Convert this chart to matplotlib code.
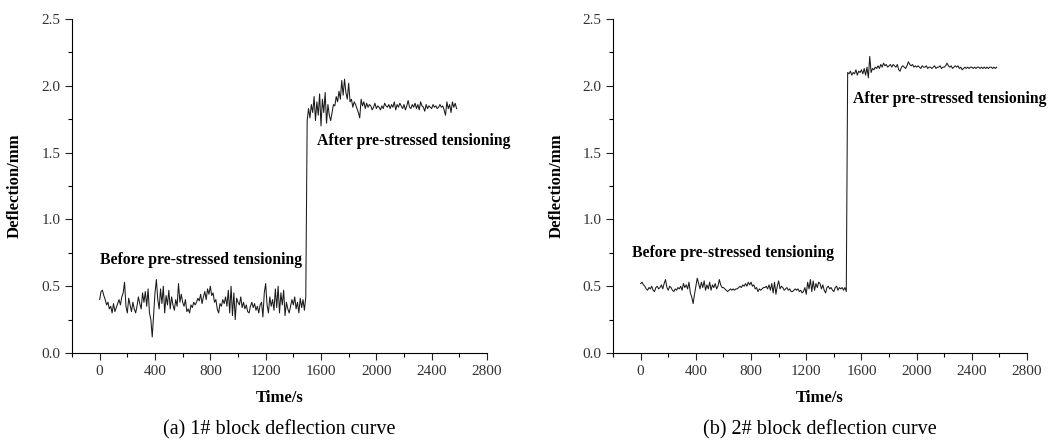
"""
Deflection of blocks 1# and 2# before and after pre-stressed tensioning
"""

import numpy as np
import matplotlib.pyplot as plt
from matplotlib.ticker import MultipleLocator

# Sampling step of the read-off values (s).
dt = 10
t_step = 1500  # first sample after tensioning

# Block 1#, before (0-1490 s) and after (1500-2580 s) tensioning, mm.
b1_before = [
    0.40, 0.46, 0.47, 0.43, 0.40, 0.36, 0.38, 0.33, 0.35, 0.30,
    0.37, 0.31, 0.34, 0.37, 0.40, 0.36, 0.42, 0.45, 0.53, 0.35,
    0.30, 0.41, 0.36, 0.31, 0.38, 0.33, 0.30, 0.35, 0.42, 0.37,
    0.33, 0.45, 0.38, 0.46, 0.35, 0.48, 0.30, 0.25, 0.12, 0.28,
    0.45, 0.55, 0.40, 0.33, 0.48, 0.37, 0.50, 0.30, 0.43, 0.36,
    0.47, 0.33, 0.42, 0.36, 0.32, 0.40, 0.35, 0.52, 0.38, 0.44,
    0.38, 0.35, 0.40, 0.31, 0.33, 0.30, 0.36, 0.34, 0.38, 0.36,
    0.38, 0.41, 0.39, 0.44, 0.37, 0.42, 0.46, 0.40, 0.48, 0.44,
    0.50, 0.43, 0.45, 0.38, 0.40, 0.33, 0.30, 0.37, 0.35, 0.40,
    0.37, 0.42, 0.35, 0.47, 0.30, 0.50, 0.28, 0.45, 0.25, 0.41,
    0.38, 0.36, 0.42, 0.34, 0.38, 0.33, 0.36, 0.31, 0.30, 0.35,
    0.38, 0.34, 0.37, 0.32, 0.35, 0.30, 0.36, 0.38, 0.27, 0.45,
    0.52, 0.36, 0.30, 0.42, 0.35, 0.40, 0.32, 0.48, 0.34, 0.50,
    0.30, 0.45, 0.36, 0.47, 0.28, 0.38, 0.33, 0.30, 0.35, 0.40,
    0.36, 0.42, 0.33, 0.38, 0.30, 0.41, 0.34, 0.40, 0.32, 0.42]
b1_after = [
    1.74, 1.83, 1.76, 1.86, 1.80, 1.92, 1.74, 1.88, 1.78, 1.94,
    1.70, 1.90, 1.80, 1.95, 1.72, 1.86, 1.78, 1.74, 1.80, 1.86,
    1.85, 1.92, 1.88, 1.96, 1.90, 2.04, 1.93, 2.05, 1.95, 1.90,
    2.02, 1.88, 1.90, 1.84, 1.88, 1.86, 1.83, 1.80, 1.76, 1.90,
    1.85, 1.88, 1.83, 1.87, 1.84, 1.86, 1.85, 1.82, 1.84, 1.87,
    1.83, 1.85, 1.84, 1.82, 1.85, 1.83, 1.87, 1.85, 1.84, 1.86,
    1.83, 1.86, 1.84, 1.88, 1.82, 1.86, 1.84, 1.87, 1.85, 1.83,
    1.86, 1.82, 1.85, 1.89, 1.84, 1.83, 1.86, 1.84, 1.87, 1.83,
    1.86, 1.82, 1.88, 1.85, 1.84, 1.81, 1.86, 1.83, 1.85, 1.84,
    1.83, 1.86, 1.84, 1.85, 1.83, 1.84, 1.86, 1.84, 1.85, 1.82,
    1.78, 1.88, 1.83, 1.86, 1.80, 1.88, 1.84, 1.87, 1.83]

# Block 2#, same time base, mm.
b2_before = [
    0.52, 0.53, 0.51, 0.50, 0.48, 0.47, 0.49, 0.48, 0.50, 0.47,
    0.46, 0.49, 0.50, 0.48, 0.49, 0.51, 0.48, 0.52, 0.55, 0.49,
    0.47, 0.50, 0.49, 0.47, 0.46, 0.48, 0.47, 0.49, 0.48, 0.50,
    0.47, 0.52, 0.49, 0.51, 0.48, 0.53, 0.45, 0.42, 0.37, 0.44,
    0.50, 0.56, 0.52, 0.48, 0.53, 0.49, 0.54, 0.47, 0.51, 0.48,
    0.53, 0.47, 0.51, 0.49, 0.52, 0.48, 0.50, 0.55, 0.51, 0.49,
    0.49, 0.48, 0.47, 0.46, 0.47, 0.48, 0.47, 0.48, 0.47, 0.48,
    0.48, 0.49, 0.50, 0.49, 0.51, 0.50, 0.52, 0.50, 0.53, 0.51,
    0.53, 0.50, 0.51, 0.48, 0.49, 0.46, 0.48, 0.47, 0.48, 0.49,
    0.49, 0.50, 0.48, 0.51, 0.47, 0.52, 0.45, 0.53, 0.44, 0.50,
    0.54, 0.48, 0.50, 0.49, 0.47, 0.48, 0.49, 0.47, 0.48, 0.46,
    0.46, 0.47, 0.48, 0.47, 0.48, 0.46, 0.47, 0.45, 0.46, 0.49,
    0.44, 0.53, 0.48, 0.55, 0.46, 0.54, 0.47, 0.52, 0.49, 0.53,
    0.52, 0.48, 0.51, 0.47, 0.45, 0.49, 0.50, 0.48, 0.49, 0.47,
    0.46, 0.49, 0.50, 0.47, 0.49, 0.48, 0.49, 0.47, 0.49, 0.46]
b2_after = [
    2.10, 2.09, 2.11, 2.08, 2.10, 2.09, 2.12, 2.08, 2.11, 2.10,
    2.12, 2.09, 2.13, 2.08, 2.14, 2.06, 2.22, 2.10, 2.13, 2.12,
    2.14, 2.13, 2.15, 2.13, 2.16, 2.14, 2.17, 2.15, 2.16, 2.14,
    2.15, 2.16, 2.14, 2.16, 2.15, 2.14, 2.16, 2.12, 2.11, 2.14,
    2.15, 2.14, 2.13, 2.15, 2.18, 2.16, 2.15, 2.16, 2.14, 2.15,
    2.14, 2.15, 2.14, 2.13, 2.15, 2.14, 2.14, 2.15, 2.13, 2.14,
    2.14, 2.13, 2.14, 2.15, 2.13, 2.14, 2.14, 2.15, 2.13, 2.14,
    2.14, 2.15, 2.17, 2.15, 2.14, 2.15, 2.13, 2.14, 2.15, 2.14,
    2.15, 2.13, 2.14, 2.12, 2.13, 2.14, 2.13, 2.14, 2.13, 2.14,
    2.14, 2.13, 2.14, 2.13, 2.14, 2.14, 2.13, 2.14, 2.13, 2.14,
    2.13, 2.14, 2.13, 2.14, 2.14, 2.13, 2.14, 2.13, 2.14]

captions = ['(a) 1# block deflection curve', '(b) 2# block deflection curve']
label_before = 'Before pre-stressed tensioning'
label_after = 'After pre-stressed tensioning'
# Text anchors (x, y) in data units: before, after.
text_pos = [((0, 0.70), (1570, 1.59)), ((-60, 0.75), (1540, 1.90))]

plt.rcParams['font.family'] = ['Liberation Serif', 'DejaVu Serif']

fig = plt.figure(figsize=(10.48, 4.4), dpi=100)
axes = [fig.add_axes([0.0687, 0.1977, 0.396, 0.759]),
        fig.add_axes([0.585, 0.1977, 0.395, 0.759])]

series = [(b1_before, b1_after), (b2_before, b2_after)]
for ax, (before, after), cap, (pb, pa) in zip(axes, series, captions, text_pos):
    y = np.array(before + after)
    t = np.concatenate([np.arange(len(before)) * dt,
                        t_step + np.arange(len(after)) * dt])
    ax.plot(t, y, color='#1a1a1a', lw=0.75)

    ax.set_xlim(-200, 2800)
    ax.set_ylim(0, 2.5)
    ax.set_xticks(np.arange(0, 2801, 400))
    ax.xaxis.set_minor_locator(MultipleLocator(200))
    ax.yaxis.set_major_locator(MultipleLocator(0.5))
    ax.yaxis.set_minor_locator(MultipleLocator(0.25))
    ax.yaxis.set_major_formatter(plt.FormatStrFormatter('%.1f'))
    ax.tick_params(which='major', direction='out', length=5, width=0.8,
                   labelsize=11, colors='#222222', labelcolor='#333333')
    ax.tick_params(which='minor', direction='out', length=3, width=0.8)
    for side in ('top', 'right'):
        ax.spines[side].set_visible(False)

    ax.set_xlabel('Time/s', fontsize=12, fontweight='bold', labelpad=9)
    ax.set_ylabel('Deflection/mm', fontsize=12, fontweight='bold',
                  labelpad=13)

    ax.text(pb[0], pb[1], label_before, fontsize=11.3, fontweight='bold',
            va='center', ha='left')
    ax.text(pa[0], pa[1], label_after, fontsize=11.3, fontweight='bold',
            va='center', ha='left')

    ax.text(0.5, -0.23, cap, transform=ax.transAxes, fontsize=14.5,
            ha='center', va='center')

fig.savefig('out.png', dpi=100)
